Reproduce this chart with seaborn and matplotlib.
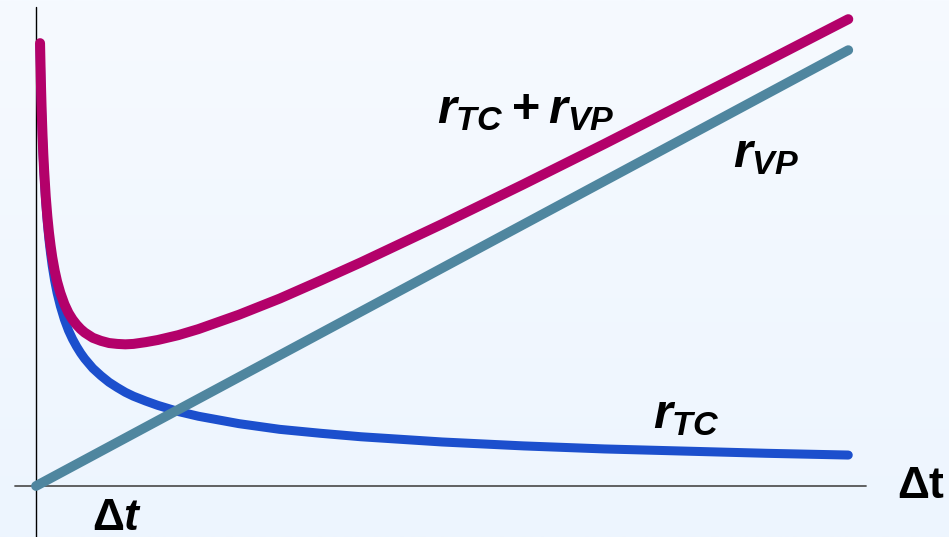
import numpy as np
import pandas as pd
import matplotlib.pyplot as plt
import seaborn as sns

# values (x = interval length, y = cost)
dt = [0.05, 0.06, 0.07, 0.08, 0.09, 0.1, 0.12, 0.14, 0.16, 0.18, 0.2, 0.23,
      0.26, 0.3, 0.35, 0.4, 0.45, 0.5, 0.55, 0.6, 0.7, 0.8, 0.9, 1.0, 1.1,
      1.2, 1.35, 1.5, 1.75, 2.0, 2.5, 3, 3.5, 4, 5, 6, 7, 8, 9, 10]
r_tc = [10.11, 9.23, 8.54, 7.99, 7.53, 7.15, 6.52, 6.04, 5.65, 5.33, 5.05, 4.71,
        4.43, 4.13, 3.82, 3.57, 3.37, 3.20, 3.05, 2.92, 2.70, 2.53, 2.38, 2.26, 2.15,
        2.06, 1.95, 1.85, 1.71, 1.60, 1.43, 1.30, 1.21, 1.13, 1.01, 0.92, 0.85, 0.80, 0.75, 0.71]
r_sum = [10.16, 9.29, 8.61, 8.07, 7.62, 7.25, 6.64, 6.18, 5.81, 5.51, 5.25, 4.94,
         4.69, 4.43, 4.17, 3.97, 3.82, 3.70, 3.60, 3.52, 3.40, 3.33, 3.28, 3.26, 3.25,
         3.26, 3.30, 3.35, 3.46, 3.60, 3.93, 4.30, 4.71, 5.13, 6.01, 6.92, 7.85, 8.80, 9.75, 10.71]
vp_dt = [0, 10]
r_vp = [0, 10]

sns.set_style("white")
plt.rcParams["mathtext.fontset"] = "custom"
plt.rcParams["mathtext.it"] = "Liberation Sans:italic:bold"
plt.rcParams["mathtext.rm"] = "Liberation Sans:bold"
plt.rcParams["mathtext.bf"] = "Liberation Sans:bold"
plt.rcParams["text.color"] = "black"

fig = plt.figure(figsize=(9.49, 5.37), dpi=100)
ax = fig.add_axes([0, 0, 1, 1])

# soft background gradient
grad = np.linspace(0, 1, 256).reshape(-1, 1)
bg = plt.matplotlib.colors.LinearSegmentedColormap.from_list("bg", ["#F6FAFF", "#EDF5FE"])
ax.imshow(grad, aspect="auto", cmap=bg, extent=[-0.443, 11.24, -1.17, 11.15],
          origin="upper", zorder=0)

tc = pd.DataFrame({"dt": dt, "r": r_tc})
sm = pd.DataFrame({"dt": dt, "r": r_sum})
vp = pd.DataFrame({"dt": vp_dt, "r": r_vp})

sns.lineplot(data=tc, x="dt", y="r", ax=ax, color="#1C4FCD", linewidth=6.5,
             sort=False, estimator=None, solid_capstyle="round",
             solid_joinstyle="round", zorder=3)
sns.lineplot(data=vp, x="dt", y="r", ax=ax, color="#4F869F", linewidth=7,
             sort=False, estimator=None, solid_capstyle="round", zorder=4)
sns.lineplot(data=sm, x="dt", y="r", ax=ax, color="#B3016A", linewidth=7.2,
             sort=False, estimator=None, solid_capstyle="round",
             solid_joinstyle="round", zorder=5)

# axis lines
ax.plot([0, 0], [-1.17, 10.99], color="black", linewidth=1.0, zorder=2)
ax.plot([-0.26, 10.22], [0, 0], color="#555555", linewidth=1.3, zorder=2)

ax.text(4.94, 8.33, r"$r_{TC}+r_{VP}$", fontsize=35, ha="left", va="baseline")
ax.text(8.58, 7.32, r"$r_{VP}$", fontsize=35, ha="left", va="baseline")
ax.text(7.59, 1.33, r"$r_{TC}$", fontsize=35, ha="left", va="baseline")
ax.text(10.6, -0.275, "Δt", fontsize=32, fontweight="bold",
        family="Liberation Sans", ha="left", va="baseline")
ax.text(0.69, -1.0, r"$\mathrm{\Delta}t$", fontsize=32, ha="left", va="baseline")

ax.set_xlim(-0.443, 11.24)
ax.set_ylim(-1.17, 11.15)
ax.axis("off")

fig.savefig("out.png", dpi=100)
